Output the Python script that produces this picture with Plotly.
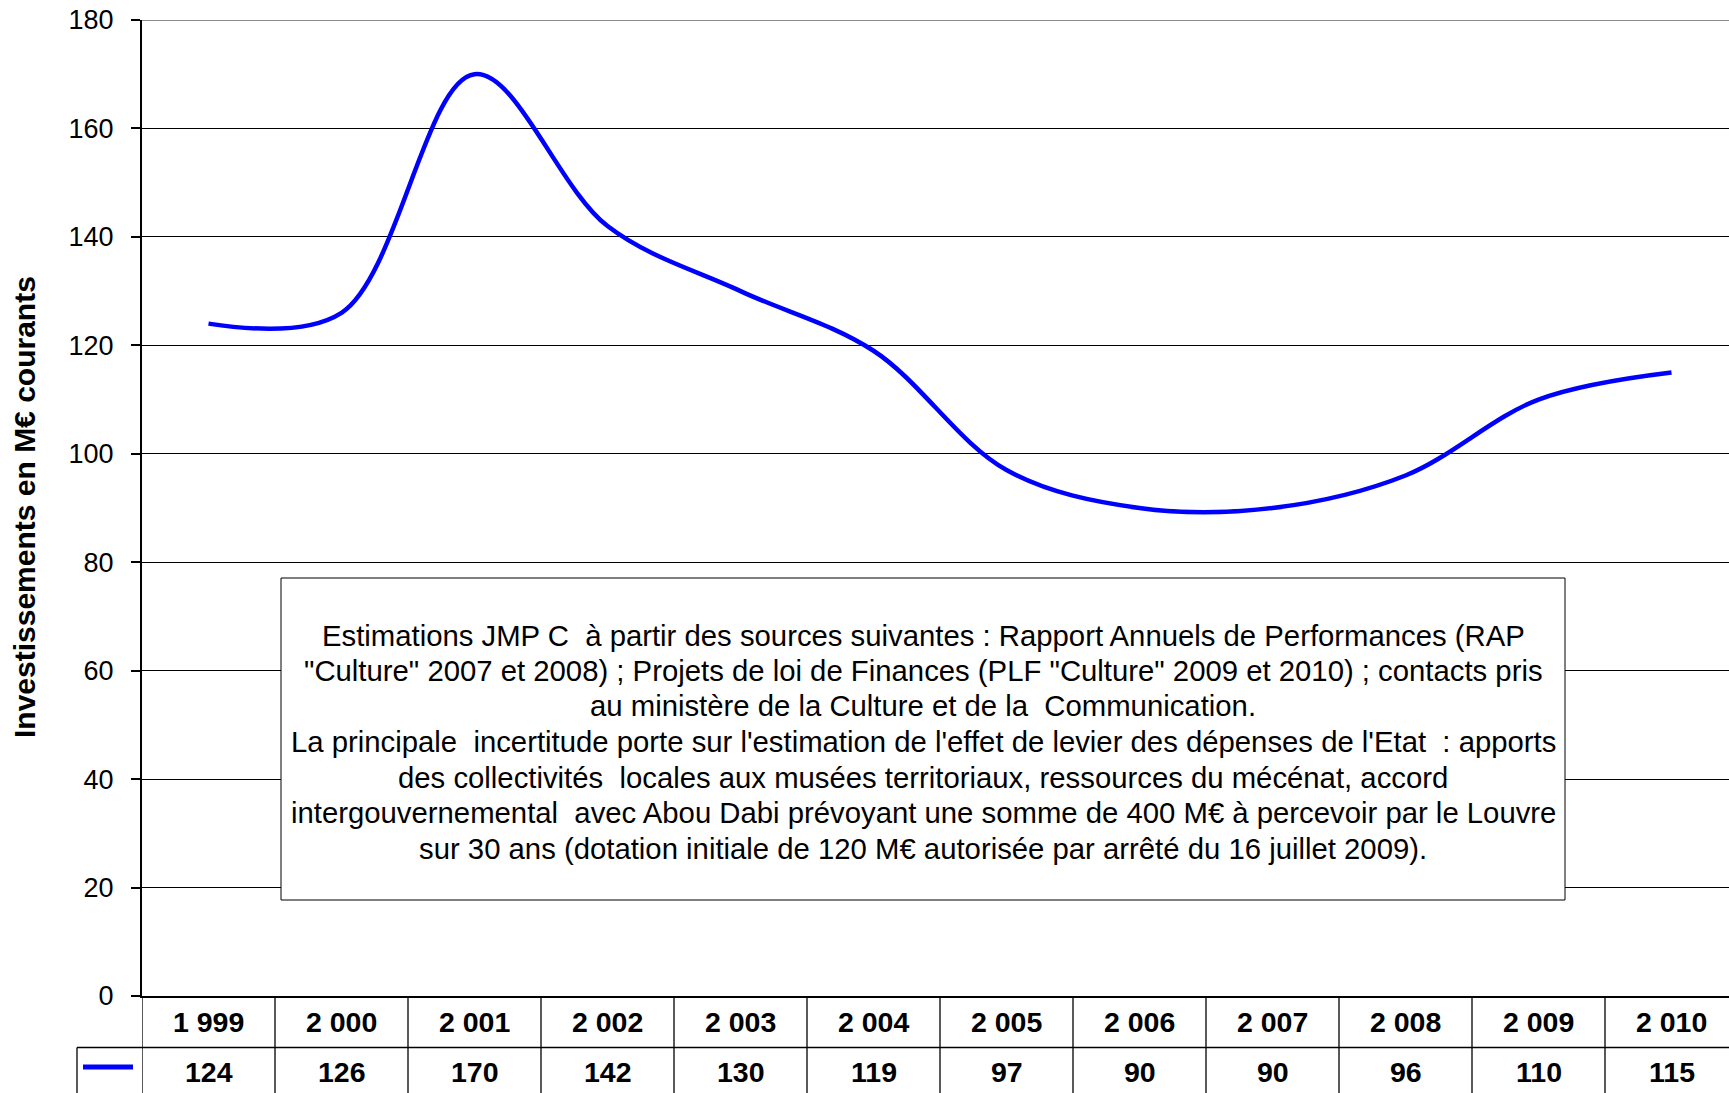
import plotly.graph_objects as go

# ---- data ----
years = ["1 999", "2 000", "2 001", "2 002", "2 003", "2 004",
         "2 005", "2 006", "2 007", "2 008", "2 009", "2 010"]
values = [124, 126, 170, 142, 130, 119, 97, 90, 90, 96, 110, 115]
y_ticks = [0, 20, 40, 60, 80, 100, 120, 140, 160, 180]
y_title = "Investissements en M€ courants"
note_lines = [
    "Estimations JMP C  à partir des sources suivantes : Rapport Annuels de Performances (RAP",
    "\"Culture\" 2007 et 2008) ; Projets de loi de Finances (PLF \"Culture\" 2009 et 2010) ; contacts pris",
    "au ministère de la Culture et de la  Communication.",
    "La principale  incertitude porte sur l'estimation de l'effet de levier des dépenses de l'Etat  : apports",
    "des collectivités  locales aux musées territoriaux, ressources du mécénat, accord",
    "intergouvernemental  avec Abou Dabi prévoyant une somme de 400 M€ à percevoir par le Louvre",
    "sur 30 ans (dotation initiale de 120 M€ autorisée par arrêté du 16 juillet 2009).",
]

FONT = "Liberation Sans, Arial, sans-serif"
W, H = 1729, 1093
AX_X, AX_TOP, AX_BOT = 142, 20, 996   # pixels
L = AX_X
T = AX_TOP
B = H - AX_BOT
plot_w = W - L
plot_h = H - T - B
col_px = 133.0

def py(pix):  # pixel y -> paper y
    return (AX_BOT - pix) / plot_h

def px(pix):  # pixel x -> paper x
    return (pix - AX_X) / plot_w

x_idx = list(range(len(years)))

fig = go.Figure()
fig.add_trace(go.Scatter(
    x=x_idx, y=values, mode="lines",
    line=dict(color="#0000FF", width=4.5, shape="spline", smoothing=1.0),
    showlegend=False, hoverinfo="skip",
))

shapes = []
shapes.append(dict(type="line", xref="paper", yref="y", x0=0, x1=1, y0=180, y1=180,
                   line=dict(color="#8c8c8c", width=2), layer="above"))
for k in range(len(years) + 1):
    shapes.append(dict(type="line", xref="x", yref="paper", x0=k - 0.5, x1=k - 0.5,
                       y0=0, y1=py(1100), line=dict(color="black", width=1.3)))
shapes.append(dict(type="line", xref="paper", yref="paper", x0=px(77), x1=1,
                   y0=py(1047.5), y1=py(1047.5), line=dict(color="black", width=1.3)))
shapes.append(dict(type="line", xref="paper", yref="paper", x0=px(77), x1=px(77),
                   y0=py(1047.5), y1=py(1100), line=dict(color="black", width=1.3)))
shapes.append(dict(type="line", xref="paper", yref="paper", x0=px(83), x1=px(133),
                   y0=py(1067), y1=py(1067), line=dict(color="#0000FF", width=5)))
shapes.append(dict(type="rect", xref="paper", yref="paper", x0=px(281), x1=px(1565),
                   y0=py(900), y1=py(578), fillcolor="white",
                   line=dict(color="black", width=1), layer="above"))

annotations = []
for i, (yr, v) in enumerate(zip(years, values)):
    annotations.append(dict(x=i, y=py(1022), xref="x", yref="paper", text=f"<b>{yr}</b>",
                            showarrow=False, font=dict(family=FONT, size=28.5, color="black"),
                            xanchor="center", yanchor="middle"))
    annotations.append(dict(x=i, y=py(1072), xref="x", yref="paper", text=f"<b>{v}</b>",
                            showarrow=False, font=dict(family=FONT, size=28.5, color="black"),
                            xanchor="center", yanchor="middle"))
annotations.append(dict(x=px(24), y=py(507), xref="paper", yref="paper",
                        text=f"<b>{y_title}</b>", textangle=-90, showarrow=False,
                        font=dict(family=FONT, size=30, color="black"),
                        xanchor="center", yanchor="middle"))
for j, line in enumerate(note_lines):
    annotations.append(dict(x=px(923), y=py(635 + j * 35.5), xref="paper", yref="paper",
                            text=line, showarrow=False, align="center",
                            font=dict(family=FONT, size=29.3, color="black"),
                            xanchor="center", yanchor="middle"))

fig.update_layout(
    width=W, height=H,
    margin=dict(l=L, r=0, t=T, b=B, pad=0, autoexpand=False),
    paper_bgcolor="white", plot_bgcolor="white",
    shapes=shapes, annotations=annotations,
    xaxis=dict(range=[-0.5, -0.5 + plot_w / col_px], showgrid=False, zeroline=False,
               showticklabels=False, ticks="", showline=True, linecolor="black",
               linewidth=2, fixedrange=True, automargin=False),
    yaxis=dict(range=[0, 180], tickvals=y_ticks, showgrid=True, gridcolor="black",
               gridwidth=1, zeroline=False, showline=True, linecolor="black", linewidth=2,
               ticks="outside", ticklen=9, tickwidth=1.5, tickcolor="black",
               ticklabelstandoff=12, ticklabeloverflow="allow", automargin=False,
               tickfont=dict(family=FONT, size=27, color="black"), fixedrange=True),
    showlegend=False,
)

fig.write_html("out.html",
               config=dict(displayModeBar=False),
               post_script="document.body.style.margin='0px';document.body.style.overflow='hidden';")
